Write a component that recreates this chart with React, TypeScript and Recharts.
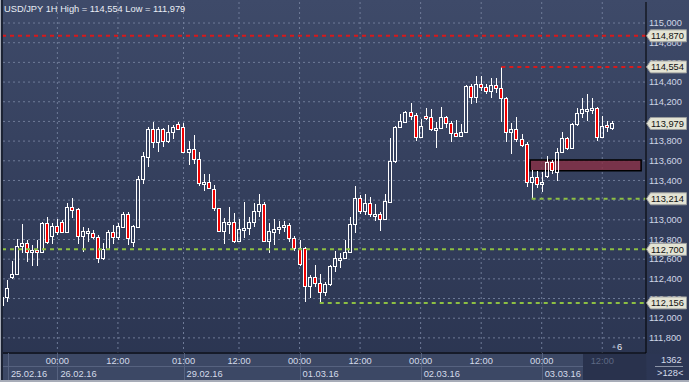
import {
  ComposedChart,
  Bar,
  XAxis,
  YAxis,
  CartesianGrid,
  ReferenceLine,
  ReferenceArea
} from "recharts";

// hourly USD/JPY candles, left to right
const opens = [
  112.13, 112.219, 112.419, 112.446, 112.734, 112.765, 112.673, 112.693, 112.67, 112.965,
  112.839, 112.937, 112.975, 112.879, 113.127, 113.11, 112.839, 112.873, 112.863, 112.822,
  112.609, 112.7, 112.873, 112.828, 112.93, 113.059, 112.772, 112.93, 113.412, 113.642,
  113.923, 113.788, 113.923, 113.801, 113.89, 113.971, 113.946, 113.686, 113.717, 113.615,
  113.371, 113.387, 113.313, 113.117, 112.89, 112.971, 112.981, 112.788, 112.904, 112.914,
  112.975, 113.093, 113.158, 112.788, 112.879, 112.904, 112.924, 112.947, 112.812, 112.717,
  112.717, 112.331, 112.416, 112.355, 112.27, 112.345, 112.531, 112.602, 112.609, 112.67,
  112.958, 113.219, 113.093, 113.168, 113.052, 113.059, 113.005, 113.184, 113.598, 113.94,
  113.997, 114.093, 114.065, 113.845, 114.058, 114.042, 113.923, 113.93, 114.048, 113.981,
  113.879, 113.855, 113.89, 114.36, 114.251, 114.377, 114.353, 114.312, 114.37, 114.337,
  114.235, 113.896, 113.923, 113.821, 113.768, 113.387, 113.432, 113.361, 113.448, 113.585,
  113.489, 113.686, 113.829, 113.733, 113.971, 114.083, 114.116, 114.116, 114.14, 113.845,
  113.964, 113.936
];
const highs = [
  112.24, 112.389, 112.582, 112.805, 112.958, 112.795, 112.744, 112.795, 112.978, 113.032,
  112.965, 113.008, 112.998, 113.168, 113.222, 113.117, 112.93, 112.914, 112.897, 112.846,
  112.761, 112.897, 112.947, 112.965, 113.083, 113.083, 112.947, 113.445, 113.692, 113.946,
  113.997, 113.946, 113.936, 113.964, 113.964, 113.997, 113.981, 113.801, 113.862, 113.686,
  113.463, 113.463, 113.354, 113.123, 113.016, 113.127, 113.066, 113.008, 113.184, 113.026,
  113.168, 113.263, 113.178, 112.965, 113.008, 112.988, 112.988, 112.965, 112.839, 112.795,
  112.727, 112.439, 112.541, 112.446, 112.371, 112.541, 112.683, 112.666, 112.795, 113.032,
  113.344, 113.252, 113.259, 113.235, 113.161, 113.083, 113.263, 113.835, 113.953, 114.076,
  114.109, 114.19, 114.083, 114.022, 114.14, 114.123, 113.997, 114.15, 114.058, 114.004,
  114.015, 113.974, 114.37, 114.377, 114.462, 114.462, 114.377, 114.444, 114.438, 114.554,
  114.251, 113.981, 114.048, 113.869, 113.788, 113.506, 113.496, 113.489, 113.649, 113.608,
  113.733, 113.89, 113.845, 113.981, 114.14, 114.241, 114.276, 114.235, 114.15, 114.055,
  114.007, 114.004
];
const lows = [
  112.12, 112.165, 112.399, 112.439, 112.663, 112.574, 112.534, 112.534, 112.663, 112.751,
  112.751, 112.846, 112.866, 112.866, 113.016, 112.754, 112.676, 112.772, 112.805, 112.558,
  112.592, 112.693, 112.751, 112.795, 112.914, 112.744, 112.727, 112.924, 113.364, 113.534,
  113.733, 113.686, 113.743, 113.778, 113.821, 113.913, 113.676, 113.557, 113.564, 113.347,
  113.293, 113.313, 113.093, 112.879, 112.754, 112.856, 112.768, 112.778, 112.812, 112.846,
  112.93, 113.032, 112.778, 112.66, 112.744, 112.856, 112.873, 112.778, 112.686, 112.534,
  112.168, 112.209, 112.32, 112.156, 112.226, 112.328, 112.473, 112.507, 112.599, 112.66,
  112.869, 113.059, 113.049, 113.026, 112.991, 112.89, 112.998, 113.178, 113.574, 113.93,
  113.981, 114.015, 113.801, 113.839, 114.015, 113.906, 113.733, 113.923, 113.936, 113.794,
  113.845, 113.839, 113.88, 114.174, 114.184, 114.309, 114.276, 114.241, 114.286, 113.997,
  113.788, 113.669, 113.788, 113.743, 113.337, 113.214, 113.32, 113.286, 113.428, 113.466,
  113.395, 113.676, 113.71, 113.727, 113.957, 114.032, 114.004, 114.072, 113.801, 113.829,
  113.89, 113.913
];
const closes = [
  112.22, 112.304, 112.446, 112.734, 112.765, 112.676, 112.693, 112.673, 112.965, 112.778,
  112.937, 112.879, 112.879, 113.127, 113.103, 112.839, 112.886, 112.886, 112.822, 112.609,
  112.7, 112.873, 112.828, 112.937, 113.059, 112.812, 112.937, 113.412, 113.649, 113.923,
  113.788, 113.923, 113.801, 113.89, 113.94, 113.92, 113.686, 113.717, 113.615, 113.371,
  113.387, 113.327, 113.117, 112.89, 112.975, 112.981, 112.788, 112.904, 112.914, 112.975,
  113.093, 113.158, 112.788, 112.886, 112.904, 112.924, 112.947, 112.812, 112.717, 112.548,
  112.331, 112.416, 112.355, 112.27, 112.345, 112.531, 112.609, 112.609, 112.67, 112.958,
  113.219, 113.093, 113.168, 113.056, 113.059, 113.005, 113.191, 113.598, 113.94, 114.004,
  114.093, 114.058, 113.845, 113.957, 114.038, 113.92, 113.93, 114.048, 113.981, 113.879,
  113.855, 113.89, 114.36, 114.251, 114.377, 114.353, 114.312, 114.37, 114.337, 114.235,
  113.896, 113.923, 113.821, 113.76, 113.387, 113.432, 113.361, 113.387, 113.585, 113.506,
  113.686, 113.829, 113.733, 113.971, 114.083, 114.126, 114.126, 114.14, 113.845, 113.957,
  113.94, 113.979
];

const priceTicks = [
  111.8, 112.0, 112.2, 112.4, 112.6, 112.8, 113.0, 113.2, 113.4,
  113.6, 113.8, 114.0, 114.2, 114.4, 114.6, 114.8, 115.0
];
// marked levels shown as tags on the price scale
const priceTags = [114.87, 114.554, 113.979, 113.214, 112.7, 112.156];

const timeTicks = [11, 23, 36, 47, 59, 71, 83, 95, 107, 119];
const timeLabels = ["00:00", "12:00", "01:00", "12:00", "00:00", "12:00", "00:00", "12:00", "00:00", "12:00"];
const dateTicks = [1.2, 11, 36, 59, 83, 107];
const dateLabels = ["25.02.16", "26.02.16", "29.02.16", "01.03.16", "02.03.16", "03.03.16"];

const resistanceLevel = 114.87;
const supportLevel = 112.7;
const highLevel = { price: 114.554, from: 99 };
const lowLevels = [
  { price: 113.214, from: 105 },
  { price: 112.156, from: 63 }
];
const zone = { from: 104.7, to: 126.7, low: 113.499, high: 113.608 };

const FONT = "'Liberation Sans', Arial, sans-serif";
const X_DOMAIN: [number, number] = [0.22, 127.67];
const Y_DOMAIN: [number, number] = [111.6466, 115.2137];

const fmt = (v: number) => v.toFixed(3).replace(".", ",");

const Candle = (props: any) => {
  const { x, y, width, height, payload } = props;
  if (x == null || !payload) return null;
  const top = Math.min(y, y + height);
  const h = Math.abs(height);
  const { open, close, high, low } = payload;
  const range = high - low || 1e-9;
  const py = (p: number) => top + ((high - p) / range) * h;
  const cx = Math.round(x + width / 2) + 0.5;
  const up = close >= open;
  const bt = Math.round(Math.min(py(open), py(close))) + 0.5;
  let bb = Math.round(Math.max(py(open), py(close))) + 0.5;
  if (bb - bt < 2) bb = bt + 2;
  return (
    <g>
      <line x1={cx} x2={cx} y1={Math.round(top)} y2={bt} stroke="#ffffff" strokeWidth={1} />
      <line x1={cx} x2={cx} y1={bb} y2={Math.round(top + h)} stroke="#ffffff" strokeWidth={1} />
      <rect
        x={cx - 2}
        y={bt}
        width={3}
        height={bb - bt}
        fill={up ? "none" : "#f00000"}
        stroke="#ffffff"
        strokeWidth={1}
      />
    </g>
  );
};

const PriceTick = (props: any) => {
  const { x, y, payload } = props;
  const v = payload.value;
  if (priceTags.includes(v)) {
    const x0 = x + 0.5;
    return (
      <g>
        <path
          d={`M${x0},${y} L${x0 + 4},${y - 6} L${x0 + 40},${y - 6} L${x0 + 40},${y + 6} L${x0 + 4},${y + 6} Z`}
          fill="#e3e3d4"
          stroke="#9a9c9c"
          strokeWidth={1}
        />
        <text x={x + 5} y={y} dy="0.35em" fill="#101010" fontSize={9.3} fontFamily={FONT}>
          {fmt(v)}
        </text>
      </g>
    );
  }
  return (
    <text x={x + 3} y={y} dy="0.35em" fill="#cfd6e6" fontSize={9.3} fontFamily={FONT}>
      {fmt(v)}
    </text>
  );
};

const TimeTick = (props: any) => {
  const { x, y, payload } = props;
  const v = payload.value;
  const ti = timeTicks.indexOf(v);
  const di = dateTicks.indexOf(v);
  return (
    <g>
      {di >= 0 && (
        <g>
          <line x1={Math.round(x) + 0.5} x2={Math.round(x) + 0.5} y1={y} y2={y + 29} stroke="#56627f" />
          <text x={x + 3} y={y + 21} dy="0.35em" fill="#d4dbea" fontSize={9.3} fontFamily={FONT}>
            {dateLabels[di]}
          </text>
        </g>
      )}
      {ti >= 0 && (
        <text
          x={x}
          y={y + 8}
          dy="0.35em"
          textAnchor="middle"
          fill={v > 115 ? "#5d6883" : "#d4dbea"}
          fontSize={9.3}
          fontFamily={FONT}
        >
          {timeLabels[ti]}
        </text>
      )}
    </g>
  );
};

export default function App() {
  const data = opens.map((o, i) => ({
    i,
    open: o,
    high: highs[i],
    low: lows[i],
    close: closes[i]
  }));
  const xTicks = Array.from(new Set([...dateTicks, ...timeTicks])).sort((a, b) => a - b);

  return (
    <div
      style={{
        position: "absolute",
        left: 0,
        top: 0,
        width: 689,
        height: 382,
        overflow: "hidden",
        background: "linear-gradient(#3e4a69, #2a3450)",
        fontFamily: FONT
      }}
    >
      <div style={{ position: "absolute", left: 3, top: 354, width: 580, height: 28, background: "#3c4865" }} />
      <div style={{ position: "absolute", left: 3, top: 366, width: 580, height: 1, background: "#56627f" }} />
      <div style={{ position: "absolute", left: 583, top: 354, width: 63, height: 28, background: "#29324d" }} />
      <div style={{ position: "absolute", left: 647, top: 354, width: 42, height: 28, background: "#2c3654" }} />

      <ComposedChart
        width={689}
        height={382}
        data={data}
        margin={{ top: 2, right: 0, bottom: 0, left: 3 }}
      >
        <CartesianGrid
          stroke="#6f7b98"
          strokeDasharray="2 3"
          horizontalValues={priceTicks}
          verticalValues={timeTicks}
        />
        <XAxis
          dataKey="i"
          type="number"
          domain={X_DOMAIN}
          allowDataOverflow
          ticks={xTicks}
          interval={0}
          height={29}
          tickSize={0}
          tickMargin={0}
          tickLine={false}
          axisLine={{ stroke: "#000000" }}
          tick={<TimeTick />}
        />
        <YAxis
          orientation="right"
          type="number"
          domain={Y_DOMAIN}
          allowDataOverflow
          ticks={[...priceTicks, ...priceTags]}
          interval={0}
          width={43}
          tickSize={0}
          tickMargin={0}
          tickLine={false}
          axisLine={{ stroke: "#000000" }}
          tick={<PriceTick />}
        />
        <ReferenceLine y={resistanceLevel} stroke="#d8191b" strokeWidth={2} strokeDasharray="4 4" />
        <ReferenceLine y={supportLevel} stroke="#8dbf43" strokeWidth={2} strokeDasharray="4 4" />
        <ReferenceLine
          segment={[
            { x: highLevel.from, y: highLevel.price },
            { x: 127.6, y: highLevel.price }
          ]}
          stroke="#d8191b"
          strokeWidth={2}
          strokeDasharray="4 4"
          ifOverflow="visible"
        />
        {lowLevels.map((l) => (
          <ReferenceLine
            key={l.price}
            segment={[
              { x: l.from, y: l.price },
              { x: 127.6, y: l.price }
            ]}
            stroke="#8dbf43"
            strokeWidth={2}
            strokeDasharray="4 4"
            ifOverflow="visible"
          />
        ))}
        <Bar
          dataKey={(d: any) => [d.low, d.high]}
          barSize={5}
          shape={<Candle />}
          isAnimationActive={false}
        />
        <ReferenceArea
          x1={zone.from}
          x2={zone.to}
          y1={zone.low}
          y2={zone.high}
          fill="#8a2f45"
          fillOpacity={0.8}
          stroke="#000000"
          strokeWidth={1.5}
          ifOverflow="visible"
        />
      </ComposedChart>

      <div
        style={{
          position: "absolute",
          left: 4,
          top: 3,
          fontSize: 9.3,
          lineHeight: "12px",
          color: "#e9edf5",
          whiteSpace: "nowrap"
        }}
      >
        USD/JPY 1H High = 114,554 Low = 111,979
      </div>
      <div style={{ position: "absolute", left: 611, top: 343, fontSize: 6, color: "#7f8aa4" }}>▲</div>
      <div style={{ position: "absolute", left: 617, top: 341, fontSize: 9.3, lineHeight: "12px", color: "#e6ebf4" }}>6</div>
      <div style={{ position: "absolute", left: 661, top: 354, fontSize: 9.3, lineHeight: "12px", color: "#d4dbea" }}>1362</div>
      <div style={{ position: "absolute", left: 655, top: 366, width: 28, height: 1, background: "#8b93a6" }} />
      <div style={{ position: "absolute", left: 657, top: 367, fontSize: 9.3, lineHeight: "12px", color: "#d4dbea" }}>&gt;128&lt;</div>
      <div style={{ position: "absolute", left: 0, top: 0, width: 1, height: 382, background: "#a7acb8" }} />
      <div style={{ position: "absolute", left: 1, top: 0, width: 2, height: 382, background: "#1c2334" }} />
      <div style={{ position: "absolute", left: 0, top: 380, width: 689, height: 2, background: "#a7acb8" }} />
    </div>
  );
}
